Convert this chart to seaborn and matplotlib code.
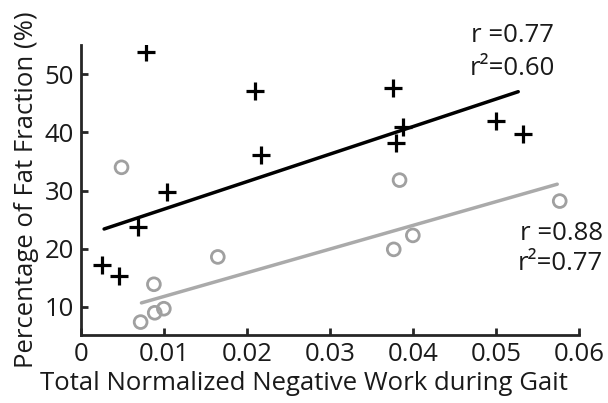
import numpy as np
import pandas as pd
import matplotlib
matplotlib.use('Agg')
import matplotlib.pyplot as plt
import seaborn as sns

# black crosses
work_a = [0.0025, 0.0046, 0.0069, 0.0104, 0.0078, 0.0210, 0.0217, 0.0376, 0.0388, 0.0380, 0.0500, 0.0533]
fat_a = [17.2, 15.3, 23.7, 29.7, 53.9, 47.2, 36.1, 47.7, 41.0, 38.1, 41.9, 39.7]
# grey circles
work_b = [0.0049, 0.0165, 0.0088, 0.0100, 0.0089, 0.0072, 0.0384, 0.0577, 0.0400, 0.0377]
fat_b = [34.0, 18.6, 13.9, 9.7, 9.0, 7.4, 31.8, 28.2, 22.3, 19.9]
# fitted lines (end points)
fit_a_x = [0.0028, 0.0527]
fit_a_y = [23.4, 47.0]
fit_b_x = [0.0073, 0.0574]
fit_b_y = [10.7, 31.1]

sns.set_style('ticks')
plt.rcParams['font.family'] = ['Open Sans', 'DejaVu Sans']
txt = '#1a1a1a'
fs = 18.5

fig = plt.figure(figsize=(6.08, 4.03), dpi=100)
ax = fig.add_axes([0.133, 0.169, 0.819, 0.719])

sns.lineplot(x=fit_a_x, y=fit_a_y, color='black', linewidth=2.5, ax=ax)
sns.lineplot(x=fit_b_x, y=fit_b_y, color='#aaaaaa', linewidth=2.5, ax=ax)
sns.scatterplot(x=work_a, y=fat_a, marker='+', color='black', s=180, linewidth=2.3, ax=ax)
ax.scatter(work_b, fat_b, marker='o', facecolors='none', edgecolors='#a0a0a0', s=85, linewidths=2)

ax.set_xlim(0, 0.06)
ax.set_ylim(5.2, 55)
ax.set_xticks([0, 0.01, 0.02, 0.03, 0.04, 0.05, 0.06])
ax.set_xticklabels(['0', '0.01', '0.02', '0.03', '0.04', '0.05', '0.06'])
ax.set_yticks([10, 20, 30, 40, 50])
ax.tick_params(direction='in', length=5, width=2, labelsize=fs, pad=5, labelcolor=txt)
for s in ['left', 'bottom']:
    ax.spines[s].set_linewidth(2)
sns.despine(ax=ax)

ax.set_xlabel('Total Normalized Negative Work during Gait', fontsize=fs, labelpad=0, color=txt)
ax.xaxis.set_label_coords(0.448, -0.125)
ax.set_ylabel('Percentage of Fat Fraction (%)', fontsize=fs, labelpad=4, color=txt)

ax.text(0.0520, 56.7, 'r =0.77', fontsize=fs, ha='center', va='center', color=txt, clip_on=False)
ax.text(0.0520, 51.0, 'r²=0.60', fontsize=fs, ha='center', va='center', color=txt, clip_on=False)
ax.text(0.0629, 22.7, 'r =0.88', fontsize=fs, ha='right', va='center', color=txt, clip_on=False)
ax.text(0.0629, 17.5, 'r²=0.77', fontsize=fs, ha='right', va='center', color=txt, clip_on=False)

fig.savefig('out.png', dpi=100)
